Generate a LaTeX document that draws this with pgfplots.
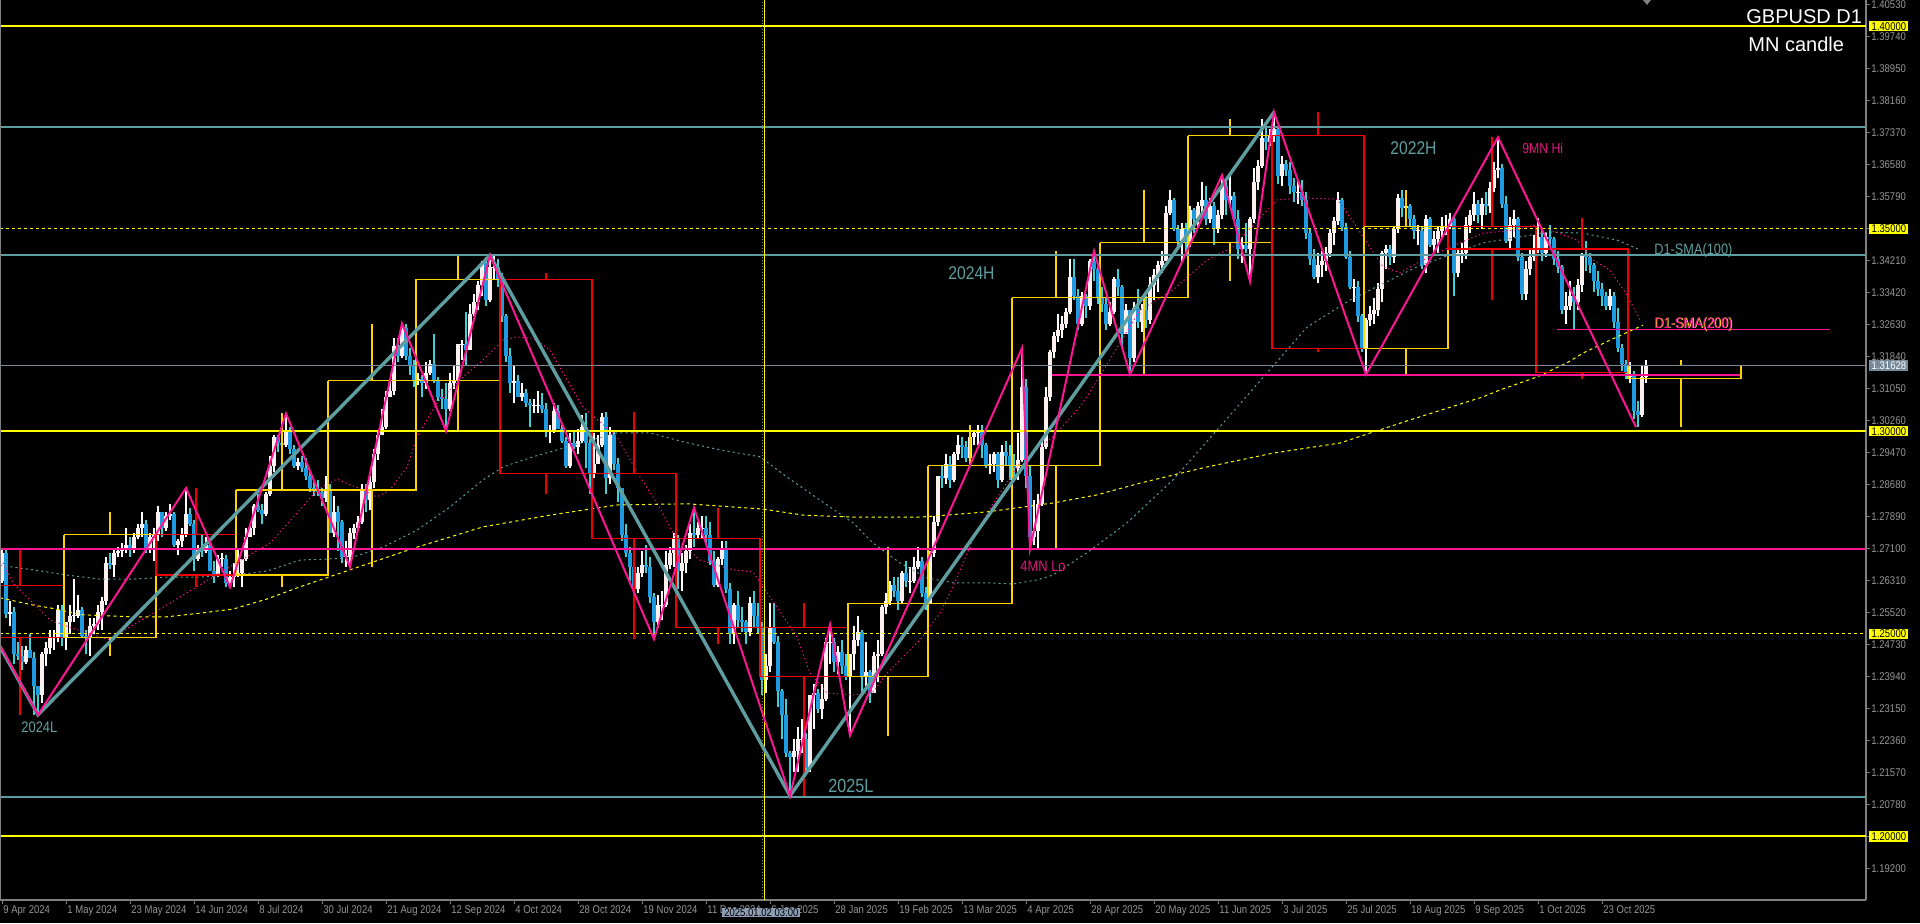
\documentclass[border=0pt]{standalone}
\usepackage{pgfplots}
\pgfplotsset{compat=1.18}
\usepackage{pgfplotstable}
\usepackage{fontspec}
\setmainfont{Liberation Sans}
\newfontfamily\nfont{Liberation Sans}[FakeStretch=0.85]
\definecolor{upb}{HTML}{FFF0F0}
\definecolor{dnb}{HTML}{1E9AE0}
\definecolor{dnw}{HTML}{3CD0D8}
\definecolor{tealc}{HTML}{5F9EA0}
\definecolor{pinkc}{HTML}{FF1493}
\definecolor{goldc}{HTML}{FFD200}
\definecolor{redc}{HTML}{F00000}
\definecolor{ylw}{HTML}{FFFF00}
\definecolor{axg}{HTML}{808080}
\definecolor{tickg}{HTML}{959595}
\definecolor{slate}{HTML}{778899}
\definecolor{lblpink}{HTML}{E0177F}
\definecolor{xlbl}{HTML}{8C9CB4}

\pgfplotstableread{
i o h l c
0 1.2630 1.2710 1.2625 1.2700
1 1.2700 1.2710 1.2540 1.2550
2 1.2550 1.2580 1.2520 1.2555
3 1.2555 1.2565 1.2425 1.2450
4 1.2450 1.2480 1.2435 1.2445
5 1.2445 1.2470 1.2410 1.2430
6 1.2430 1.2470 1.2425 1.2460
7 1.2460 1.2500 1.2445 1.2440
8 1.2440 1.2455 1.2300 1.2370
9 1.2370 1.2370 1.2300 1.2350
10 1.2350 1.2455 1.2330 1.2450
11 1.2450 1.2480 1.2420 1.2465
12 1.2465 1.2510 1.2450 1.2490
13 1.2490 1.2510 1.2460 1.2490
14 1.2490 1.2570 1.2480 1.2560
15 1.2560 1.2570 1.2470 1.2490
16 1.2490 1.2530 1.2460 1.2530
17 1.2530 1.2570 1.2500 1.2545
18 1.2545 1.2635 1.2530 1.2545
19 1.2545 1.2595 1.2540 1.2560
20 1.2560 1.2565 1.2490 1.2495
21 1.2495 1.2510 1.2450 1.2490
22 1.2490 1.2540 1.2445 1.2520
23 1.2520 1.2540 1.2500 1.2525
24 1.2525 1.2570 1.2510 1.2555
25 1.2555 1.2590 1.2510 1.2580
26 1.2580 1.2690 1.2570 1.2675
27 1.2675 1.2700 1.2660 1.2670
28 1.2670 1.2710 1.2640 1.2700
29 1.2700 1.2715 1.2690 1.2705
30 1.2705 1.2725 1.2690 1.2710
31 1.2710 1.2760 1.2700 1.2720
32 1.2720 1.2740 1.2690 1.2710
33 1.2710 1.2750 1.2700 1.2740
34 1.2740 1.2770 1.2735 1.2760
35 1.2760 1.2800 1.2740 1.2770
36 1.2770 1.2780 1.2700 1.2710
37 1.2710 1.2750 1.2700 1.2740
38 1.2740 1.2760 1.2680 1.2745
39 1.2745 1.2815 1.2730 1.2800
40 1.2800 1.2800 1.2740 1.2760
41 1.2760 1.2800 1.2755 1.2790
42 1.2790 1.2820 1.2780 1.2795
43 1.2795 1.2800 1.2715 1.2720
44 1.2720 1.2735 1.2695 1.2730
45 1.2730 1.2760 1.2715 1.2745
46 1.2745 1.2860 1.2740 1.2795
47 1.2795 1.2810 1.2765 1.2770
48 1.2770 1.2780 1.2655 1.2685
49 1.2685 1.2720 1.2680 1.2710
50 1.2710 1.2745 1.2690 1.2705
51 1.2705 1.2740 1.2700 1.2720
52 1.2720 1.2735 1.2655 1.2655
53 1.2655 1.2680 1.2625 1.2645
54 1.2645 1.2695 1.2640 1.2685
55 1.2685 1.2700 1.2665 1.2685
56 1.2685 1.2695 1.2615 1.2625
57 1.2625 1.2655 1.2620 1.2640
58 1.2640 1.2675 1.2615 1.2645
59 1.2645 1.2710 1.2640 1.2650
60 1.2650 1.2680 1.2615 1.2685
61 1.2685 1.2760 1.2680 1.2740
62 1.2740 1.2770 1.2740 1.2760
63 1.2760 1.2820 1.2745 1.2815
64 1.2815 1.2845 1.2800 1.2805
65 1.2805 1.2820 1.2770 1.2795
66 1.2795 1.2850 1.2790 1.2845
67 1.2845 1.2940 1.2840 1.2915
68 1.2915 1.2990 1.2900 1.2985
69 1.2985 1.2990 1.2950 1.2970
70 1.2970 1.2980 1.2935 1.2965
71 1.2965 1.3045 1.2960 1.3000
72 1.3000 1.3010 1.2945 1.2955
73 1.2955 1.2965 1.2910 1.2915
74 1.2915 1.2935 1.2905 1.2925
75 1.2925 1.2940 1.2900 1.2910
76 1.2910 1.2935 1.2880 1.2890
77 1.2890 1.2900 1.2850 1.2860
78 1.2860 1.2875 1.2840 1.2855
79 1.2855 1.2880 1.2840 1.2850
80 1.2850 1.2860 1.2815 1.2835
81 1.2835 1.2890 1.2825 1.2855
82 1.2855 1.2870 1.2750 1.2750
83 1.2750 1.2840 1.2740 1.2800
84 1.2800 1.2815 1.2705 1.2775
85 1.2775 1.2780 1.2675 1.2690
86 1.2690 1.2730 1.2665 1.2690
87 1.2690 1.2760 1.2665 1.2750
88 1.2750 1.2770 1.2735 1.2760
89 1.2760 1.2790 1.2755 1.2775
90 1.2775 1.2870 1.2770 1.2855
91 1.2855 1.2870 1.2800 1.2830
92 1.2830 1.2890 1.2805 1.2875
93 1.2875 1.2955 1.2860 1.2945
94 1.2945 1.3000 1.2930 1.2990
95 1.2990 1.3055 1.2990 1.3010
96 1.3010 1.3100 1.3005 1.3085
97 1.3085 1.3130 1.3085 1.3100
98 1.3100 1.3230 1.3090 1.3210
99 1.3210 1.3230 1.3170 1.3185
100 1.3185 1.3266 1.3180 1.3255
101 1.3255 1.3265 1.3175 1.3185
102 1.3185 1.3205 1.3140 1.3160
103 1.3160 1.3175 1.3110 1.3125
104 1.3125 1.3145 1.3115 1.3130
105 1.3130 1.3140 1.3085 1.3120
106 1.3120 1.3170 1.3105 1.3145
107 1.3145 1.3175 1.3140 1.3165
108 1.3165 1.3240 1.3120 1.3125
109 1.3125 1.3135 1.3075 1.3085
110 1.3085 1.3105 1.3055 1.3080
111 1.3080 1.3120 1.3001 1.3055
112 1.3055 1.3145 1.3050 1.3120
113 1.3120 1.3160 1.3105 1.3125
114 1.3125 1.3215 1.3125 1.3215
115 1.3215 1.3225 1.3175 1.3215
116 1.3215 1.3295 1.3160 1.3200
117 1.3200 1.3315 1.3200 1.3290
118 1.3290 1.3340 1.3285 1.3320
119 1.3320 1.3370 1.3300 1.3360
120 1.3360 1.3420 1.3335 1.3415
121 1.3415 1.3430 1.3310 1.3325
122 1.3325 1.3434 1.3320 1.3405
123 1.3405 1.3435 1.3375 1.3405
124 1.3405 1.3425 1.3355 1.3375
125 1.3375 1.3390 1.3270 1.3285
126 1.3285 1.3290 1.3170 1.3185
127 1.3185 1.3205 1.3095 1.3120
128 1.3120 1.3160 1.3070 1.3125
129 1.3125 1.3140 1.3085 1.3085
130 1.3085 1.3120 1.3075 1.3095
131 1.3095 1.3105 1.3060 1.3070
132 1.3070 1.3080 1.3010 1.3065
133 1.3065 1.3080 1.3045 1.3065
134 1.3065 1.3100 1.3045 1.3065
135 1.3065 1.3095 1.3045 1.3055
136 1.3055 1.3070 1.2985 1.3000
137 1.3000 1.3015 1.2970 1.3000
138 1.3000 1.3070 1.2995 1.3050
139 1.3050 1.3065 1.3005 1.3005
140 1.3005 1.3015 1.2970 1.2975
141 1.2975 1.2985 1.2910 1.2915
142 1.2915 1.2995 1.2910 1.2970
143 1.2970 1.3000 1.2955 1.2960
144 1.2960 1.3005 1.2945 1.2975
145 1.2975 1.3040 1.2970 1.3010
146 1.3010 1.3045 1.2910 1.2970
147 1.2970 1.2980 1.2845 1.2895
148 1.2895 1.2995 1.2885 1.2920
149 1.2920 1.2990 1.2920 1.2965
150 1.2965 1.3045 1.2960 1.3035
151 1.3035 1.3047 1.2845 1.2885
152 1.2885 1.3010 1.2870 1.2990
153 1.2990 1.3000 1.2905 1.2920
154 1.2920 1.2935 1.2825 1.2860
155 1.2860 1.2860 1.2730 1.2745
156 1.2745 1.2770 1.2690 1.2700
157 1.2700 1.2715 1.2630 1.2665
158 1.2665 1.2680 1.2595 1.2610
159 1.2610 1.2665 1.2600 1.2650
160 1.2650 1.2705 1.2640 1.2670
161 1.2670 1.2720 1.2650 1.2665
162 1.2665 1.2690 1.2575 1.2590
163 1.2590 1.2600 1.2487 1.2530
164 1.2530 1.2595 1.2515 1.2570
165 1.2570 1.2605 1.2535 1.2570
166 1.2570 1.2705 1.2565 1.2670
167 1.2670 1.2715 1.2660 1.2700
168 1.2700 1.2750 1.2665 1.2735
169 1.2735 1.2745 1.2610 1.2655
170 1.2655 1.2700 1.2605 1.2675
171 1.2675 1.2720 1.2650 1.2705
172 1.2705 1.2770 1.2685 1.2750
173 1.2750 1.2811 1.2715 1.2745
174 1.2745 1.2775 1.2735 1.2760
175 1.2760 1.2790 1.2735 1.2760
176 1.2760 1.2790 1.2725 1.2745
177 1.2745 1.2775 1.2670 1.2680
178 1.2680 1.2705 1.2615 1.2620
179 1.2620 1.2690 1.2615 1.2685
180 1.2685 1.2730 1.2670 1.2710
181 1.2710 1.2730 1.2600 1.2610
182 1.2610 1.2625 1.2475 1.2500
183 1.2500 1.2575 1.2475 1.2570
184 1.2570 1.2605 1.2515 1.2535
185 1.2535 1.2565 1.2505 1.2530
186 1.2530 1.2535 1.2475 1.2505
187 1.2505 1.2590 1.2495 1.2575
188 1.2575 1.2605 1.2515 1.2545
189 1.2545 1.2575 1.2500 1.2515
190 1.2515 1.2530 1.2350 1.2385
191 1.2385 1.2450 1.2355 1.2420
192 1.2420 1.2575 1.2405 1.2515
193 1.2515 1.2575 1.2475 1.2480
194 1.2480 1.2495 1.2320 1.2360
195 1.2360 1.2365 1.2240 1.2300
196 1.2300 1.2340 1.2195 1.2205
197 1.2205 1.2210 1.2100 1.2195
198 1.2195 1.2240 1.2160 1.2210
199 1.2210 1.2270 1.2160 1.2240
200 1.2240 1.2290 1.2205 1.2240
201 1.2240 1.2255 1.2160 1.2170
202 1.2170 1.2350 1.2160 1.2350
203 1.2350 1.2375 1.2265 1.2355
204 1.2355 1.2365 1.2305 1.2315
205 1.2315 1.2375 1.2290 1.2340
206 1.2340 1.2490 1.2335 1.2480
207 1.2480 1.2523 1.2425 1.2480
208 1.2480 1.2490 1.2405 1.2430
209 1.2430 1.2470 1.2400 1.2455
210 1.2455 1.2485 1.2400 1.2420
211 1.2420 1.2450 1.2385 1.2395
212 1.2395 1.2450 1.2249 1.2450
213 1.2450 1.2520 1.2410 1.2485
214 1.2485 1.2545 1.2470 1.2505
215 1.2505 1.2510 1.2350 1.2395
216 1.2395 1.2480 1.2370 1.2405
217 1.2405 1.2410 1.2330 1.2355
218 1.2355 1.2455 1.2355 1.2445
219 1.2445 1.2485 1.2380 1.2450
220 1.2450 1.2570 1.2445 1.2565
221 1.2565 1.2600 1.2550 1.2580
222 1.2580 1.2630 1.2570 1.2620
223 1.2620 1.2640 1.2590 1.2605
224 1.2605 1.2640 1.2560 1.2580
225 1.2580 1.2655 1.2575 1.2650
226 1.2650 1.2680 1.2615 1.2630
227 1.2630 1.2665 1.2600 1.2630
228 1.2630 1.2690 1.2625 1.2665
229 1.2665 1.2715 1.2660 1.2680
230 1.2680 1.2690 1.2590 1.2600
231 1.2600 1.2615 1.2560 1.2575
232 1.2575 1.2705 1.2575 1.2700
233 1.2700 1.2790 1.2690 1.2775
234 1.2775 1.2890 1.2765 1.2890
235 1.2890 1.2915 1.2860 1.2885
236 1.2885 1.2945 1.2870 1.2920
237 1.2920 1.2940 1.2860 1.2880
238 1.2880 1.2950 1.2875 1.2945
239 1.2945 1.2990 1.2930 1.2965
240 1.2965 1.2985 1.2935 1.2960
241 1.2960 1.2975 1.2925 1.2935
242 1.2935 1.2990 1.2930 1.2985
243 1.2985 1.3000 1.2965 1.2995
244 1.2995 1.3015 1.2965 1.3000
245 1.3000 1.3015 1.2935 1.2965
246 1.2965 1.2970 1.2910 1.2915
247 1.2915 1.2945 1.2895 1.2920
248 1.2920 1.2950 1.2900 1.2945
249 1.2945 1.2950 1.2860 1.2880
250 1.2880 1.2965 1.2875 1.2950
251 1.2950 1.2975 1.2915 1.2940
252 1.2940 1.2965 1.2880 1.2915
253 1.2915 1.2945 1.2885 1.2910
254 1.2910 1.2995 1.2880 1.2930
255 1.2930 1.3205 1.2925 1.3110
256 1.3110 1.3130 1.2860 1.2890
257 1.2890 1.2915 1.2710 1.2740
258 1.2740 1.2830 1.2720 1.2755
259 1.2755 1.2845 1.2710 1.2820
260 1.2820 1.2980 1.2815 1.2960
261 1.2960 1.3110 1.2955 1.3085
262 1.3085 1.3200 1.3075 1.3195
263 1.3195 1.3245 1.3180 1.3235
264 1.3235 1.3290 1.3220 1.3250
265 1.3250 1.3285 1.3230 1.3265
266 1.3265 1.3305 1.3255 1.3295
267 1.3295 1.3425 1.3290 1.3380
268 1.3380 1.3425 1.3325 1.3335
269 1.3335 1.3350 1.3250 1.3265
270 1.3265 1.3345 1.3260 1.3335
271 1.3335 1.3340 1.3280 1.3310
272 1.3310 1.3425 1.3300 1.3420
273 1.3420 1.3445 1.3370 1.3400
274 1.3400 1.3405 1.3315 1.3330
275 1.3330 1.3355 1.3295 1.3315
276 1.3315 1.3330 1.3250 1.3265
277 1.3265 1.3320 1.3260 1.3295
278 1.3295 1.3380 1.3290 1.3375
279 1.3375 1.3400 1.3335 1.3355
280 1.3355 1.3360 1.3210 1.3240
281 1.3240 1.3315 1.3240 1.3300
282 1.3300 1.3300 1.3140 1.3180
283 1.3180 1.3320 1.3170 1.3305
284 1.3305 1.3350 1.3255 1.3270
285 1.3270 1.3315 1.3245 1.3300
286 1.3300 1.3335 1.3255 1.3275
287 1.3275 1.3380 1.3265 1.3360
288 1.3360 1.3400 1.3325 1.3385
289 1.3385 1.3420 1.3345 1.3410
290 1.3410 1.3445 1.3390 1.3420
291 1.3420 1.3555 1.3420 1.3540
292 1.3540 1.3595 1.3535 1.3570
293 1.3570 1.3575 1.3495 1.3500
294 1.3500 1.3510 1.3455 1.3470
295 1.3470 1.3515 1.3420 1.3500
296 1.3500 1.3515 1.3440 1.3465
297 1.3465 1.3555 1.3455 1.3545
298 1.3545 1.3550 1.3490 1.3525
299 1.3525 1.3565 1.3505 1.3555
300 1.3555 1.3615 1.3540 1.3570
301 1.3570 1.3605 1.3510 1.3525
302 1.3525 1.3575 1.3515 1.3555
303 1.3555 1.3565 1.3460 1.3500
304 1.3500 1.3545 1.3490 1.3535
305 1.3535 1.3632 1.3525 1.3605
306 1.3605 1.3615 1.3535 1.3570
307 1.3570 1.3630 1.3555 1.3580
308 1.3580 1.3590 1.3520 1.3525
309 1.3525 1.3545 1.3425 1.3450
310 1.3450 1.3480 1.3415 1.3460
311 1.3460 1.3515 1.3440 1.3450
312 1.3450 1.3530 1.3370 1.3525
313 1.3525 1.3650 1.3515 1.3615
314 1.3615 1.3670 1.3595 1.3655
315 1.3655 1.3770 1.3650 1.3725
316 1.3725 1.3750 1.3695 1.3715
317 1.3715 1.3745 1.3705 1.3730
318 1.3730 1.3788 1.3715 1.3745
319 1.3745 1.3750 1.3610 1.3630
320 1.3630 1.3680 1.3605 1.3660
321 1.3660 1.3670 1.3630 1.3645
322 1.3645 1.3665 1.3585 1.3605
323 1.3605 1.3625 1.3565 1.3590
324 1.3590 1.3620 1.3560 1.3590
325 1.3590 1.3620 1.3555 1.3570
326 1.3570 1.3590 1.3475 1.3490
327 1.3490 1.3500 1.3410 1.3425
328 1.3425 1.3450 1.3375 1.3380
329 1.3380 1.3440 1.3365 1.3410
330 1.3410 1.3445 1.3380 1.3420
331 1.3420 1.3455 1.3395 1.3440
332 1.3440 1.3500 1.3430 1.3490
333 1.3490 1.3530 1.3460 1.3520
334 1.3520 1.3590 1.3510 1.3570
335 1.3570 1.3575 1.3495 1.3505
336 1.3505 1.3515 1.3425 1.3430
337 1.3430 1.3445 1.3350 1.3355
338 1.3355 1.3375 1.3320 1.3355
339 1.3355 1.3370 1.3270 1.3285
340 1.3285 1.3290 1.3195 1.3205
341 1.3205 1.3280 1.3140 1.3275
342 1.3275 1.3310 1.3260 1.3290
343 1.3290 1.3330 1.3265 1.3300
344 1.3300 1.3365 1.3285 1.3350
345 1.3350 1.3445 1.3320 1.3440
346 1.3440 1.3460 1.3400 1.3450
347 1.3450 1.3460 1.3410 1.3430
348 1.3430 1.3505 1.3415 1.3500
349 1.3500 1.3585 1.3490 1.3575
350 1.3575 1.3595 1.3530 1.3550
351 1.3550 1.3575 1.3525 1.3555
352 1.3555 1.3560 1.3505 1.3525
353 1.3525 1.3535 1.3475 1.3495
354 1.3495 1.3510 1.3460 1.3495
355 1.3495 1.3505 1.3400 1.3410
356 1.3410 1.3535 1.3390 1.3525
357 1.3525 1.3530 1.3455 1.3460
358 1.3460 1.3495 1.3440 1.3475
359 1.3475 1.3505 1.3440 1.3495
360 1.3495 1.3530 1.3480 1.3505
361 1.3505 1.3535 1.3485 1.3505
362 1.3505 1.3540 1.3500 1.3525
363 1.3525 1.3530 1.3335 1.3390
364 1.3390 1.3450 1.3380 1.3440
365 1.3440 1.3465 1.3415 1.3440
366 1.3440 1.3530 1.3425 1.3510
367 1.3510 1.3545 1.3490 1.3535
368 1.3535 1.3590 1.3520 1.3560
369 1.3560 1.3570 1.3515 1.3535
370 1.3535 1.3575 1.3500 1.3560
371 1.3560 1.3590 1.3535 1.3555
372 1.3555 1.3615 1.3540 1.3600
373 1.3600 1.3665 1.3590 1.3645
374 1.3645 1.3726 1.3625 1.3650
375 1.3650 1.3660 1.3550 1.3560
376 1.3560 1.3580 1.3465 1.3470
377 1.3470 1.3530 1.3450 1.3510
378 1.3510 1.3545 1.3480 1.3525
379 1.3525 1.3530 1.3420 1.3430
380 1.3430 1.3440 1.3325 1.3340
381 1.3340 1.3420 1.3325 1.3400
382 1.3400 1.3450 1.3385 1.3430
383 1.3430 1.3485 1.3420 1.3450
384 1.3450 1.3527 1.3440 1.3480
385 1.3480 1.3500 1.3420 1.3440
386 1.3440 1.3490 1.3430 1.3480
387 1.3480 1.3510 1.3455 1.3475
388 1.3475 1.3480 1.3410 1.3425
389 1.3425 1.3445 1.3390 1.3405
390 1.3405 1.3410 1.3290 1.3300
391 1.3300 1.3345 1.3265 1.3310
392 1.3310 1.3370 1.3300 1.3335
393 1.3335 1.3355 1.3250 1.3320
394 1.3320 1.3375 1.3300 1.3360
395 1.3360 1.3440 1.3345 1.3435
396 1.3435 1.3470 1.3395 1.3430
397 1.3430 1.3440 1.3390 1.3410
398 1.3410 1.3415 1.3345 1.3370
399 1.3370 1.3395 1.3335 1.3350
400 1.3350 1.3365 1.3310 1.3335
401 1.3335 1.3345 1.3300 1.3310
402 1.3310 1.3350 1.3300 1.3335
403 1.3335 1.3345 1.3255 1.3270
404 1.3270 1.3305 1.3195 1.3205
405 1.3205 1.3215 1.3150 1.3165
406 1.3165 1.3175 1.3130 1.3145
407 1.3135 1.3170 1.3120 1.3140
408 1.3140 1.3150 1.3030 1.3050
409 1.3050 1.3075 1.3010 1.3040
410 1.3040 1.3160 1.3035 1.3135
411 1.3135 1.3175 1.3120 1.3163
}\daily

\newcommand{\hlev}[4]{\addplot[#1] coordinates {(#3,#2) (#4,#2)};}
\newcommand{\mcandle}[8]{%
  \addplot[#1, line width=0.6pt] coordinates {(#2,#6) (#3,#6) (#3,#7) (#2,#7) (#2,#6)};
  \addplot[#1, line width=0.6pt] coordinates {(#4,#5) (#4,#6)};
  \addplot[#1, line width=0.6pt] coordinates {(#4,#7) (#4,#8)};}
\tikzset{plab/.style={anchor=west, inner sep=0, minimum width=19.5pt, minimum height=5.2pt, font=\nfont\fontsize{5.6pt}{6pt}\selectfont}}

\begin{document}
\begin{tikzpicture}
\useasboundingbox (0,0) rectangle (960pt,461.5pt);
\fill[black] (0,0) rectangle (960pt,461.5pt);
\begin{axis}[
  at={(0pt,11.5pt)}, anchor=south west,
  width=933pt, height=450pt, scale only axis,
  xmin=-0.5, xmax=466, ymin=1.18429, ymax=1.40646,
  axis x line*=bottom, axis y line*=right,
  axis line style={draw=axg, line width=0.7pt, -},
  tick style={draw=axg, line width=0.5pt},
  major tick length=2pt, tick align=outside,
  clip mode=individual,
  xtick={0,16,...,400},
  xticklabels={9 Apr 2024, 1 May 2024, 23 May 2024, 14 Jun 2024, 8 Jul 2024, 30 Jul 2024, 21 Aug 2024, 12 Sep 2024, 4 Oct 2024, 28 Oct 2024, 19 Nov 2024, 11 Dec 2024, 6 Jan 2025, 28 Jan 2025, 19 Feb 2025, 13 Mar 2025, 4 Apr 2025, 28 Apr 2025, 20 May 2025, 11 Jun 2025, 3 Jul 2025, 25 Jul 2025, 18 Aug 2025, 9 Sep 2025, 1 Oct 2025, 23 Oct 2025},
  ytick={1.40530,1.39740,1.38950,1.38160,1.37370,1.36580,1.35790,1.35000,1.34210,1.33420,1.32630,1.31840,1.31050,1.30260,1.29470,1.28680,1.27890,1.27100,1.26310,1.25520,1.24730,1.23940,1.23150,1.22360,1.21570,1.20780,1.19990,1.19200},
  yticklabels={1.40530,1.39740,1.38950,1.38160,1.37370,1.36580,1.35790,{},1.34210,1.33420,1.32630,1.31840,1.31050,1.30260,1.29470,1.28680,1.27890,1.27100,1.26310,1.25520,1.24730,1.23940,1.23150,1.22360,1.21570,1.20780,{},1.19200},
  xticklabel style={font=\nfont\fontsize{5.6pt}{6pt}\selectfont, text=tickg, anchor=north west, inner sep=0.5pt},
  yticklabel style={font=\nfont\fontsize{5.6pt}{6pt}\selectfont, text=tickg, anchor=west, inner sep=0.5pt},
]
% ---- daily candles
\addplot[draw=none, forget plot, error bars/.cd, y dir=plus, y explicit, error mark=none,
  error bar style={draw=white, line width=0.55pt}]
  table[x=i, y expr={\thisrow{c}>=\thisrow{o} ? \thisrow{l} : nan}, y error plus expr={\thisrow{h}-\thisrow{l}}] {\daily};
\addplot[draw=none, forget plot, error bars/.cd, y dir=plus, y explicit, error mark=none,
  error bar style={draw=dnw, line width=0.55pt}]
  table[x=i, y expr={\thisrow{c}<\thisrow{o} ? \thisrow{l} : nan}, y error plus expr={\thisrow{h}-\thisrow{l}}] {\daily};
\addplot[draw=none, forget plot, error bars/.cd, y dir=plus, y explicit, error mark=none,
  error bar style={draw=upb, line width=1.65pt}]
  table[x=i, y expr={\thisrow{c}>=\thisrow{o} ? \thisrow{o} : nan}, y error plus expr={max(\thisrow{c}-\thisrow{o},0.0001)}] {\daily};
\addplot[draw=none, forget plot, error bars/.cd, y dir=plus, y explicit, error mark=none,
  error bar style={draw=dnb, line width=1.65pt}]
  table[x=i, y expr={\thisrow{c}<\thisrow{o} ? \thisrow{c} : nan}, y error plus expr={\thisrow{o}-\thisrow{c}}] {\daily};

% ---- moving averages
\addplot[pinkc, line width=0.5pt, dash pattern=on 0.6pt off 1.4pt] coordinates {
(0.25,1.2675)(2.75,1.2625)(7.75,1.2576)(12,1.2534)(20.25,1.2505)(27,1.2485)(32.75,1.2522)(41.25,1.2571)(49.5,1.2621)(57.75,1.2670)(67,1.2724)(74.5,1.2806)(78.75,1.2855)(83.75,1.2882)(90.25,1.2855)(93.75,1.2838)(97,1.2855)(101.25,1.2912)(103.75,1.2986)(108.75,1.3070)(115.25,1.3134)(120.25,1.3176)(125.25,1.3225)(128.75,1.3233)(132.75,1.3230)(137,1.3201)(141.25,1.3127)(145.25,1.3060)(153.75,1.2986)(159.5,1.2887)(163.75,1.2823)(168.75,1.2732)(174.5,1.2682)(182.75,1.2658)(187.75,1.2653)(190.25,1.2616)(193.75,1.2566)(198.75,1.2492)(202,1.2403)(206.25,1.2354)(212.75,1.2349)(217.75,1.2356)(221.25,1.2403)(229.5,1.2485)(234.5,1.2551)(237.75,1.2616)(242.75,1.2732)(246.25,1.2798)(254.5,1.2922)(262.75,1.2986)(269.5,1.3060)(272.75,1.3109)(284.5,1.3299)(292.75,1.3349)(301.25,1.3423)(307.75,1.3455)(318.75,1.3571)(325.25,1.3576)(333.75,1.3573)(337,1.3529)(341.25,1.3465)(345.25,1.3406)(349.5,1.3391)(353.75,1.3415)(362,1.3455)(370.25,1.3489)(378.75,1.3497)(382.75,1.3509)(387,1.3497)(393.75,1.3472)(397.75,1.3423)(402,1.3398)(406.25,1.3336)(409.5,1.3275)};
\addplot[tealc, line width=0.5pt, dash pattern=on 1pt off 1.6pt] coordinates {
(-0.5,1.2669)(7.75,1.2658)(16.25,1.2645)(24.5,1.2635)(32.75,1.2635)(41.25,1.2640)(49.5,1.2640)(57.75,1.2645)(66.25,1.2655)(74.5,1.2682)(87,1.2687)(95.25,1.2714)(103.75,1.2756)(112,1.2813)(120.25,1.2880)(125.25,1.2912)(132.75,1.2937)(141.25,1.2961)(153.75,1.2996)(162,1.2996)(170.25,1.2974)(179.5,1.2954)(189.5,1.2937)(196.25,1.2887)(204.5,1.2830)(212.75,1.2774)(217.75,1.2724)(224.5,1.2675)(231.25,1.2638)(237.75,1.2626)(246.25,1.2626)(252.75,1.2623)(258.75,1.2633)(262.75,1.2645)(271.25,1.2700)(281.25,1.2774)(292.75,1.2880)(303.75,1.3003)(316.25,1.3144)(326.25,1.3257)(337,1.3324)(353.75,1.3406)(370.25,1.3465)(387,1.3492)(395.25,1.3489)(403.75,1.3472)(409.5,1.3448)};
\addplot[ylw, line width=0.5pt, dash pattern=on 1.6pt off 1.6pt] coordinates {
(-0.5,1.2589)(7.75,1.2571)(12,1.2564)(20.25,1.2547)(32.75,1.2542)(41.25,1.2542)(49.5,1.2551)(57.75,1.2561)(66.25,1.2586)(74.5,1.2616)(87,1.2658)(103.75,1.2714)(120.25,1.2764)(137,1.2793)(153.75,1.2818)(171.25,1.2821)(190.25,1.2808)(200.25,1.2793)(212.75,1.2788)(229.5,1.2788)(246.25,1.2801)(262.75,1.2823)(273.75,1.2843)(284.5,1.2872)(301.25,1.2912)(317.75,1.2946)(334.5,1.2971)(352,1.3028)(370.25,1.3085)(374.5,1.3102)(383.75,1.3134)(391.25,1.3169)(395.25,1.3193)(403.75,1.3233)(410.25,1.3262)};

% ---- monthly candles (MN)
\mcandle{redc}{-6.5}{15.5}{4.5}{1.2709}{1.2620}{1.2490}{1.2300}
\mcandle{goldc}{15.5}{38.5}{27}{1.2800}{1.2745}{1.2490}{1.2445}
\mcandle{redc}{38.5}{58.5}{48.5}{1.2860}{1.2745}{1.2645}{1.2615}
\mcandle{goldc}{58.5}{81.5}{70}{1.3044}{1.2855}{1.2645}{1.2615}
\mcandle{goldc}{81.5}{103.5}{92.5}{1.3266}{1.3125}{1.2855}{1.2665}
\mcandle{goldc}{103.5}{124.5}{114}{1.3434}{1.3375}{1.3125}{1.3001}
\mcandle{redc}{124.5}{147.5}{136}{1.3390}{1.3375}{1.2895}{1.2845}
\mcandle{redc}{147.5}{168.5}{158}{1.3047}{1.2895}{1.2735}{1.2487}
\mcandle{redc}{168.5}{189.5}{179}{1.2811}{1.2735}{1.2515}{1.2475}
\mcandle{redc}{189.5}{211.5}{200.5}{1.2575}{1.2515}{1.2395}{1.2100}
\mcandle{goldc}{211.5}{231.5}{221.5}{1.2715}{1.2575}{1.2395}{1.2249}
\mcandle{goldc}{231.5}{252.5}{242}{1.3015}{1.2915}{1.2575}{1.2575}
\mcandle{goldc}{252.5}{274.5}{263.5}{1.3445}{1.3330}{1.2915}{1.2710}
\mcandle{goldc}{274.5}{296.5}{285.5}{1.3595}{1.3465}{1.3330}{1.3140}
\mcandle{goldc}{296.5}{317.5}{307}{1.3770}{1.3730}{1.3465}{1.3370}
\mcandle{redc}{317.5}{340.5}{329}{1.3788}{1.3730}{1.3205}{1.3195}
\mcandle{goldc}{340.5}{361.5}{351}{1.3595}{1.3505}{1.3205}{1.3140}
\mcandle{redc}{361.5}{383.5}{372.5}{1.3726}{1.3505}{1.3450}{1.3325}
\mcandle{redc}{383.5}{406.5}{395}{1.3527}{1.3450}{1.3145}{1.3130}
\mcandle{goldc}{406.5}{434.75}{419.75}{1.3175}{1.3163}{1.3130}{1.3010}

% ---- horizontal levels
\hlev{ylw, line width=1pt}{1.40000}{-0.5}{466}
\hlev{tealc, line width=1pt}{1.37510}{-0.5}{466}
\hlev{ylw, line width=0.5pt, dash pattern=on 1.5pt off 1.5pt}{1.35000}{-0.5}{466}
\hlev{tealc, line width=1pt}{1.34350}{-0.5}{466}
\hlev{slate, line width=0.5pt}{1.31628}{-0.5}{466}
\hlev{pinkc, line width=1pt}{1.31400}{262.5}{434.5}
\hlev{pinkc, line width=0.5pt}{1.32500}{388.75}{457}
\hlev{ylw, line width=1pt}{1.30000}{-0.5}{466}
\hlev{pinkc, line width=1pt}{1.27100}{-0.5}{466}
\hlev{ylw, line width=0.5pt, dash pattern=on 1.5pt off 1.5pt}{1.25000}{-0.5}{466}
\hlev{tealc, line width=1.4pt}{1.20970}{-0.5}{466}
\hlev{ylw, line width=1pt}{1.20000}{-0.5}{466}
% crosshair
\addplot[axg, line width=0.4pt, dash pattern=on 0.5pt off 1pt] coordinates {(190.1,1.18429) (190.1,1.40646)};
\addplot[ylw, line width=0.5pt] coordinates {(190.5,1.18429) (190.5,1.40646)};

% ---- zigzags
\addplot[tealc, line width=1.7pt] coordinates {(-0.5,1.2468) (9,1.2300) (122,1.3434) (197,1.2100) (318,1.3788)};
\addplot[pinkc, line width=1pt] coordinates {(-0.5,1.2472) (9,1.2300) (46,1.2860) (57,1.2615) (71,1.3044) (87,1.2665) (100,1.3266) (111,1.3001) (122,1.3434) (163,1.2487) (173,1.2811) (197,1.2100) (207,1.2523) (212,1.2249) (255,1.3205) (257,1.2710) (273,1.3445) (282,1.3140) (305,1.3632) (312,1.3370) (318,1.3788) (341,1.3140) (374,1.3726) (408.5,1.3010)};

% ---- labels
\node[anchor=west, inner sep=0, text=white, font=\fontsize{10pt}{12pt}\selectfont] at (axis cs:436,1.40226) {GBPUSD D1};
\node[anchor=west, inner sep=0, text=white, font=\fontsize{10pt}{12pt}\selectfont] at (axis cs:436.5,1.39547) {MN candle};
\node[anchor=west, inner sep=0, text=tealc, font=\nfont\fontsize{7.6pt}{9pt}\selectfont] at (axis cs:4.75,1.22688) {2024L};
\node[anchor=west, inner sep=0, text=tealc, font=\nfont\fontsize{9.5pt}{11pt}\selectfont] at (axis cs:206.5,1.21256) {2025L};
\node[anchor=west, inner sep=0, text=tealc, font=\nfont\fontsize{9.2pt}{11pt}\selectfont] at (axis cs:236.5,1.33895) {2024H};
\node[anchor=west, inner sep=0, text=tealc, font=\nfont\fontsize{9.2pt}{11pt}\selectfont] at (axis cs:347,1.36980) {2022H};
\node[anchor=west, inner sep=0, text=lblpink, font=\nfont\fontsize{7.2pt}{9pt}\selectfont] at (axis cs:380,1.36980) {9MN Hi};
\node[anchor=west, inner sep=0, text=lblpink, font=\nfont\fontsize{7.6pt}{9pt}\selectfont] at (axis cs:254.5,1.26662) {4MN Lo};
\node[anchor=west, inner sep=0, text=tealc, font=\nfont\fontsize{7.5pt}{9pt}\selectfont] at (axis cs:413,1.34450) {D1-SMA(100)};
\node[anchor=west, inner sep=0, text=ylw, font=\nfont\fontsize{7.5pt}{9pt}\selectfont] at (axis cs:413.2,1.32623) {D1-SMA(200)};
\node[anchor=west, inner sep=0, text=pinkc, font=\nfont\fontsize{7.5pt}{9pt}\selectfont] at (axis cs:413,1.32623) {D1-SMA(200)};
% top triangle marker
\fill[axg] (axis cs:410.25,1.40646) -- (axis cs:412.25,1.40646) -- (axis cs:411.25,1.40523) -- cycle;
% left border
\draw[axg, line width=0.7pt] (axis cs:-0.5,1.18429) -- (axis cs:-0.5,1.40646);
% anchors for the scale labels (drawn after the axis so they cover the tick labels)
\coordinate (p140) at (axis cs:466.75,1.40000);
\coordinate (p135) at (axis cs:466.75,1.35000);
\coordinate (p130) at (axis cs:466.75,1.30000);
\coordinate (p125) at (axis cs:466.75,1.25000);
\coordinate (p120) at (axis cs:466.75,1.20000);
\coordinate (pcur) at (axis cs:466.75,1.31628);
\coordinate (tlab) at (axis cs:180,1.18121);
\end{axis}
\node[plab, fill=ylw, text=black] at (p140) {1.40000};
\node[plab, fill=ylw, text=black] at (p135) {1.35000};
\node[plab, fill=ylw, text=black] at (p130) {1.30000};
\node[plab, fill=ylw, text=black] at (p125) {1.25000};
\node[plab, fill=ylw, text=black] at (p120) {1.20000};
\node[plab, fill=slate, text=white] at (pcur) {1.31628};
\node[anchor=west, fill=xlbl, text=black, inner sep=0, minimum width=39pt, minimum height=4.8pt, font=\nfont\fontsize{5.6pt}{6pt}\selectfont] at (tlab) {2025.01.02 03:00};
\end{tikzpicture}
\end{document}
